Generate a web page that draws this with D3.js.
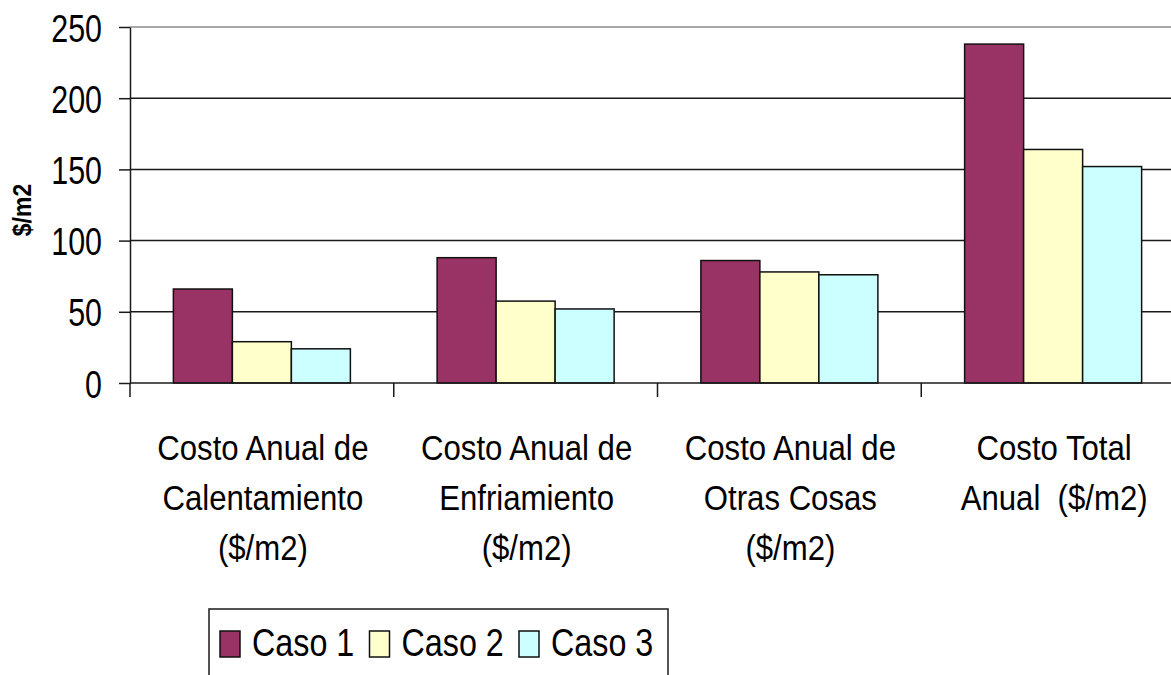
<!DOCTYPE html>
<html lang="es">
<head>
    <meta charset="UTF-8">
    <title>Costos anuales por caso</title>
    <script src="https://d3js.org/d3.v7.min.js"></script>
    <style>
        body, html {
            margin: 0;
            background-color: #ffffff;
            overflow: hidden;
        }
        text {
            font-family: 'Liberation Sans', Arial, sans-serif;
            fill: #000;
            white-space: pre;
        }
    </style>
</head>
<body>
<svg id="chart"></svg>

<script>
    // datos
    const categories = [
        ["Costo Anual de", "Calentamiento", "($/m2)"],
        ["Costo Anual de", "Enfriamiento", "($/m2)"],
        ["Costo Anual de", "Otras Cosas", "($/m2)"],
        ["Costo Total", "Anual  ($/m2)"]
    ];
    const seriesNames = ["Caso 1", "Caso 2", "Caso 3"];
    const caso1 = [66, 88, 86, 238];
    const caso2 = [29, 57.5, 78, 164];
    const caso3 = [24, 52, 76, 152];
    const yTicks = [0, 50, 100, 150, 200, 250];
    const colors = ["#993366", "#ffffcc", "#ccffff"];

    const seriesValues = [caso1, caso2, caso3];

    const W = 1171, H = 675;
    const plot = { left: 130, right: 1185, top: 27, bottom: 383 };

    const svg = d3.select("#chart")
        .attr("width", W)
        .attr("height", H);

    const x0 = d3.scaleBand()
        .domain(d3.range(categories.length))
        .range([plot.left, plot.right])
        .padding(0);
    const x1 = d3.scaleBand()
        .domain(d3.range(seriesNames.length))
        .range([0, x0.bandwidth()])
        .paddingInner(0)
        .paddingOuter(0.735);
    const y = d3.scaleLinear().domain([0, 250]).range([plot.bottom, plot.top]);

    // gridlines
    svg.append("g").selectAll("line")
        .data(yTicks.filter(d => d > 0))
        .join("line")
        .attr("x1", plot.left).attr("x2", plot.right)
        .attr("y1", d => y(d)).attr("y2", d => y(d))
        .attr("stroke", d => d === 250 ? "#8a8a8a" : "#1a1a1a")
        .attr("stroke-width", 1.5);

    // bars
    const groups = svg.append("g").selectAll("g")
        .data(categories.map((c, i) => seriesValues.map((s, j) => ({ i, j, v: s[i] }))))
        .join("g")
        .attr("transform", (d, i) => `translate(${x0(i)},0)`);

    groups.selectAll("rect")
        .data(d => d)
        .join("rect")
        .attr("x", d => x1(d.j))
        .attr("width", x1.bandwidth())
        .attr("y", d => y(d.v))
        .attr("height", d => y(0) - y(d.v))
        .attr("fill", d => colors[d.j])
        .attr("stroke", "#111")
        .attr("stroke-width", 1.5);

    // y axis
    const yAxis = svg.append("g")
        .attr("transform", `translate(${plot.left},0)`)
        .call(d3.axisLeft(y).tickValues(yTicks).tickSize(11).tickSizeOuter(0));
    yAxis.select(".domain").attr("stroke", "#1a1a1a").attr("stroke-width", 1.5);
    yAxis.selectAll(".tick line").attr("stroke", "#1a1a1a").attr("stroke-width", 1.5);
    yAxis.selectAll(".tick text")
        .attr("x", null).attr("dy", null)
        .attr("text-anchor", "end")
        .attr("font-size", 38)
        .attr("transform", "translate(-28,14) scale(0.8,1)");

    // x axis line and tick marks at category edges
    svg.append("line")
        .attr("x1", plot.left).attr("x2", plot.right)
        .attr("y1", y(0)).attr("y2", y(0))
        .attr("stroke", "#1a1a1a").attr("stroke-width", 1.5);
    svg.append("g").selectAll("line")
        .data(d3.range(categories.length + 1))
        .join("line")
        .attr("x1", d => plot.left + d * x0.step())
        .attr("x2", d => plot.left + d * x0.step())
        .attr("y1", y(0)).attr("y2", y(0) + 14)
        .attr("stroke", "#1a1a1a").attr("stroke-width", 1.5);

    // category labels
    const labels = svg.append("g").selectAll("g")
        .data(categories)
        .join("g")
        .attr("transform", (d, i) => `translate(${x0(i) + x0.bandwidth() / 2 + 1},0)`);
    labels.selectAll("text")
        .data(d => d)
        .join("text")
        .attr("text-anchor", "middle")
        .attr("font-size", 35)
        .attr("transform", (d, k) => `translate(0,${460 + k * 50}) scale(0.89,1)`)
        .text(d => d);

    // y axis title
    svg.append("text")
        .attr("text-anchor", "middle")
        .attr("font-size", 25)
        .attr("font-weight", "bold")
        .attr("transform", "translate(31,210) rotate(-90) scale(0.92,1)")
        .text("$/m2");

    // legend
    const legend = svg.append("g");
    legend.append("rect")
        .attr("x", 209).attr("y", 609)
        .attr("width", 459).attr("height", 120)
        .attr("fill", "none")
        .attr("stroke", "#1a1a1a").attr("stroke-width", 1.5);
    const items = legend.selectAll("g.item")
        .data(seriesNames)
        .join("g")
        .attr("class", "item")
        .attr("transform", (d, i) => `translate(${220 + i * 149.5},631)`);
    items.append("rect")
        .attr("width", 20).attr("height", 26)
        .attr("fill", (d, i) => colors[i])
        .attr("stroke", "#111").attr("stroke-width", 1.5);
    items.append("text")
        .attr("font-size", 38)
        .attr("transform", "translate(32,25) scale(0.85,1)")
        .text(d => d);
</script>
</body>
</html>
